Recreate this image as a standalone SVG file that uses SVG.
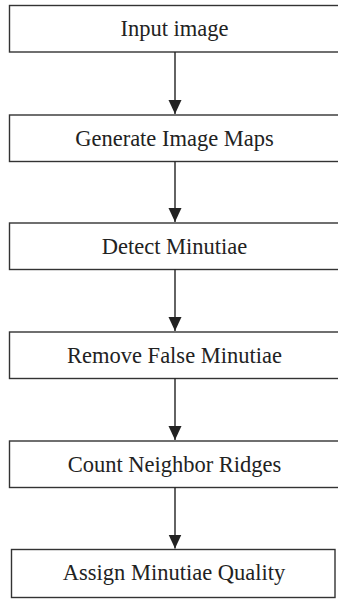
<svg xmlns="http://www.w3.org/2000/svg" width="338" height="600" viewBox="0 0 338 600">
<style>
.box{fill:#fff;stroke:#333;stroke-width:1.4}
.lbl{font-family:"Liberation Serif","Times New Roman",serif;font-size:22.5px;fill:#222;text-anchor:middle}
.con{stroke:#222;stroke-width:1.4;fill:none}
</style>
<defs>
<marker id="ah" markerUnits="userSpaceOnUse" markerWidth="14" markerHeight="14" refX="14" refY="7" orient="auto" viewBox="0 0 14 14">
<path d="M0,0.5 L14,7 L0,13.5 Z" fill="#222"/>
</marker>
</defs>
<rect width="338" height="600" fill="#fff"/>
<g id="n1"><rect class="box" x="9.5" y="5.5" width="335" height="46.5"/><text class="lbl" x="174.5" y="36">Input image</text></g>
<g id="n2"><rect class="box" x="9.5" y="115" width="335" height="46.5"/><text class="lbl" x="174.5" y="145.5">Generate Image Maps</text></g>
<g id="n3"><rect class="box" x="9.5" y="223" width="335" height="46.5"/><text class="lbl" x="174.5" y="253.5">Detect Minutiae</text></g>
<g id="n4"><rect class="box" x="9.5" y="332" width="335" height="46.5"/><text class="lbl" x="174.5" y="362.5">Remove False Minutiae</text></g>
<g id="n5"><rect class="box" x="9.5" y="441" width="335" height="46.5"/><text class="lbl" x="174.5" y="471.5">Count Neighbor Ridges</text></g>
<g id="n6"><rect class="box" x="11.5" y="549.5" width="323.5" height="48"/><text class="lbl" x="174" y="580">Assign Minutiae Quality</text></g>
<g id="connectors">
<path class="con" d="M175,52 V114" marker-end="url(#ah)"/>
<path class="con" d="M175,161.5 V222" marker-end="url(#ah)"/>
<path class="con" d="M175,269.5 V331" marker-end="url(#ah)"/>
<path class="con" d="M175,378.5 V440" marker-end="url(#ah)"/>
<path class="con" d="M175,487.5 V548.5" marker-end="url(#ah)"/>
</g>
</svg>
